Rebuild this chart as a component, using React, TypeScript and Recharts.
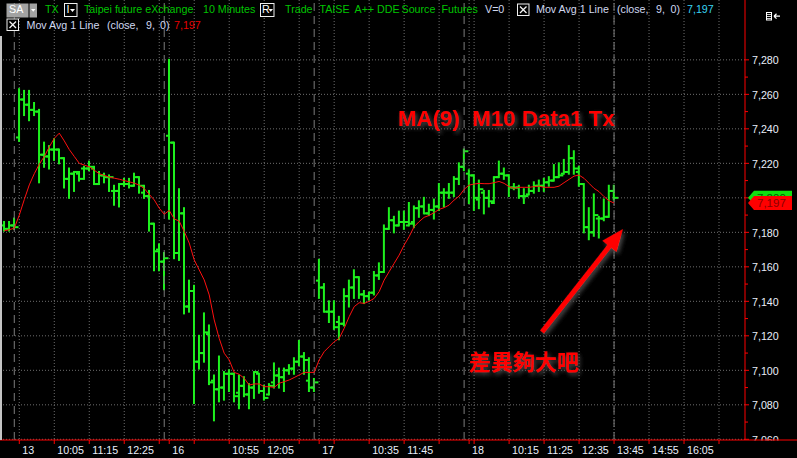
import React from 'react';
import { ComposedChart, Bar, Line, XAxis, YAxis, CartesianGrid, ReferenceLine } from 'recharts';

// ---------- data (10-minute bars, index 0 = day "13" 08:55) ----------
const FIRST_BAR_INDEX = -3;

const opens = [
  7184, 7182, 7184,
  7235, 7257, 7254, 7251, 7250, 7225, 7224, 7228, 7228, 7223,
  7211, 7214, 7214, 7217, 7217, 7217, 7208, 7213, 7212, 7204,
  7204, 7208, 7208, 7207, 7212, 7203, 7201, 7185, 7170, 7163,
  7236, 7232, 7168, 7191, 7137, 7146, 7105, 7110, 7121, 7094,
  7089, 7090, 7098, 7098, 7087, 7091, 7086, 7090, 7098, 7088,
  7086, 7093, 7097, 7096, 7100, 7101, 7105, 7108, 7094, 7090,
  7152, 7148, 7134, 7134, 7128, 7127, 7143, 7148, 7154, 7144,
  7143, 7145, 7155, 7157, 7182, 7187, 7184, 7186, 7184, 7186,
  7194, 7195, 7191, 7193, 7195, 7203, 7203, 7203, 7211, 7218,
  7214, 7213, 7199, 7203, 7200, 7197, 7212, 7214, 7213, 7206,
  7206, 7201, 7202, 7204, 7207, 7207, 7209, 7210, 7212, 7214,
  7215, 7223, 7215, 7208, 7183, 7180, 7188, 7188, 7189, 7204,
];
const highs = [
  7186, 7186, 7188,
  7263, 7262, 7262, 7255, 7251, 7232, 7230, 7234, 7228, 7223,
  7217, 7215, 7215, 7218, 7221, 7218, 7215, 7214, 7213, 7207,
  7208, 7211, 7211, 7214, 7212, 7207, 7204, 7185, 7173, 7168,
  7280, 7232, 7205, 7194, 7152, 7149, 7120, 7133, 7126, 7097,
  7108, 7099, 7100, 7098, 7097, 7096, 7092, 7099, 7098, 7091,
  7092, 7104, 7101, 7101, 7103, 7107, 7117, 7110, 7107, 7095,
  7164, 7150, 7140, 7140, 7131, 7147, 7152, 7158, 7154, 7146,
  7145, 7157, 7162, 7184, 7194, 7189, 7192, 7192, 7197, 7195,
  7198, 7200, 7196, 7199, 7208, 7205, 7208, 7212, 7220, 7228,
  7216, 7213, 7210, 7204, 7204, 7212, 7221, 7217, 7213, 7208,
  7207, 7205, 7207, 7209, 7210, 7211, 7212, 7219, 7220, 7222,
  7230, 7227, 7218, 7208, 7194, 7202, 7189, 7199, 7207, 7207,
];
const lows = [
  7181, 7181, 7182,
  7233, 7248, 7245, 7248, 7209, 7218, 7217, 7222, 7220, 7206,
  7200, 7204, 7210, 7211, 7216, 7208, 7208, 7209, 7204, 7196,
  7195, 7207, 7206, 7207, 7203, 7200, 7181, 7158, 7158, 7147,
  7188, 7165, 7164, 7133, 7134, 7081, 7101, 7105, 7092, 7071,
  7082, 7083, 7088, 7082, 7078, 7085, 7078, 7084, 7087, 7083,
  7086, 7090, 7090, 7088, 7098, 7098, 7103, 7098, 7088, 7088,
  7142, 7134, 7128, 7124, 7118, 7126, 7137, 7142, 7142, 7139,
  7141, 7144, 7153, 7157, 7182, 7180, 7184, 7182, 7184, 7183,
  7189, 7191, 7190, 7188, 7193, 7195, 7200, 7201, 7208, 7216,
  7197, 7193, 7194, 7191, 7195, 7197, 7212, 7211, 7201, 7205,
  7200, 7197, 7202, 7203, 7204, 7204, 7207, 7210, 7212, 7214,
  7214, 7214, 7207, 7180, 7176, 7178, 7177, 7187, 7189, 7199,
];
const closes = [
  7182, 7184, 7183,
  7257, 7254, 7251, 7250, 7225, 7224, 7228, 7228, 7223, 7211,
  7214, 7215, 7211, 7217, 7218, 7208, 7213, 7212, 7212, 7204,
  7208, 7208, 7207, 7212, 7207, 7201, 7185, 7169, 7163, 7165,
  7232, 7168, 7191, 7137, 7146, 7105, 7110, 7122, 7093, 7089,
  7090, 7098, 7098, 7085, 7091, 7086, 7090, 7099, 7088, 7084,
  7091, 7097, 7096, 7100, 7101, 7105, 7108, 7106, 7090, 7093,
  7148, 7134, 7134, 7125, 7127, 7143, 7148, 7154, 7144, 7143,
  7145, 7155, 7157, 7182, 7187, 7184, 7186, 7186, 7185, 7194,
  7195, 7191, 7193, 7195, 7203, 7203, 7203, 7211, 7218, 7227,
  7213, 7200, 7205, 7200, 7198, 7212, 7214, 7213, 7206, 7206,
  7201, 7201, 7204, 7207, 7207, 7209, 7210, 7212, 7213, 7215,
  7223, 7217, 7208, 7183, 7180, 7190, 7188, 7189, 7204, 7200,
];
const movAvg9 = [
  7181, 7181.5, 7182.4,
  7190, 7199, 7207.5, 7214, 7219.5, 7224, 7229.5, 7234.5, 7237.5, 7233,
  7228, 7224, 7220, 7219, 7218, 7216, 7214, 7213, 7212, 7211.4,
  7210.8, 7210, 7209.3, 7208.5, 7207.4, 7205.4, 7202, 7198.8, 7194, 7190.5,
  7192.7, 7187.8, 7186.5, 7180.5, 7173.8, 7164, 7158.2, 7152.4, 7143.7, 7129.2,
  7118.5, 7109.9, 7106, 7098.8, 7097.7, 7095.4, 7091.5, 7092.1, 7092.1, 7090.5,
  7090.5, 7090.1, 7092.5, 7093.4, 7094.4, 7095.8, 7097.3, 7098.8, 7098.8, 7098.8,
  7106, 7110.8, 7113.7, 7116.6, 7118.5, 7124.3, 7131.1, 7136.9, 7139.2, 7138.8,
  7140, 7141.7, 7145.6, 7152.3, 7157.2, 7162, 7166.8, 7172.6, 7177.5, 7183.3,
  7186.2, 7188.7, 7189.8, 7191.4, 7193.3, 7194.3, 7195.8, 7198.7, 7201, 7204.9,
  7207.4, 7208, 7208.4, 7208.2, 7208.2, 7208.8, 7209.5, 7208.4, 7206.5, 7205.5,
  7206.1, 7206.1, 7206.1, 7206.5, 7206.8, 7206.1, 7206.1, 7206.1, 7206.8, 7208.8,
  7210.7, 7212.6, 7213.2, 7211.3, 7208.4, 7205.5, 7203.6, 7200.7, 7198.3, 7197,
];

const sessionEndIndex = [-1, 29, 59, 89, 119];
const xTickIndex = [0, 7, 14, 21, 28, 30, 35, 42, 49, 56, 60, 63, 70, 77, 84, 90, 91, 98, 105, 112, 119, 126, 133, 140];
const xTickLabels = ['13', '10:05', '11:15', '12:25', '', '16', '', '10:55', '12:05', '', '17', '', '10:35', '11:45', '', '18', '', '10:15', '11:25', '12:35', '13:45', '14:55', '16:05', ''];
const yTickValues = [7060, 7070, 7080, 7090, 7100, 7110, 7120, 7130, 7140, 7150, 7160, 7170, 7180, 7190, 7200, 7210, 7220, 7230, 7240, 7250, 7260, 7270, 7280];
const yLabelValues = [7060, 7080, 7100, 7120, 7140, 7160, 7180, 7200, 7220, 7240, 7260, 7280];

const X_DOMAIN: [number, number] = [-3.86, 145.2];
const Y_DOMAIN: [number, number] = [7059.6, 7314.7];

const data = opens.map((open, k) => ({
  i: FIRST_BAR_INDEX + k,
  open,
  high: highs[k],
  low: lows[k],
  close: closes[k],
  ma: movAvg9[k],
}));
const lastBar = data[data.length - 1];
const lastClose = lastBar.close;
const lastMa = Math.round(lastBar.ma);
// price tags ride on the y axis: last close tag, then MA tag drawn last (on top)
const yAxisTicks = [...yTickValues.filter((v) => v !== lastClose && v !== lastMa), lastClose, lastMa];

// ---------- styles ----------
const FONT = '"Liberation Sans", Arial, sans-serif';
const BAR_GREEN = '#1ef01e';
const HEAD_GREEN = '#00c400';
const LIGHT = '#d0d8f0';
const AXIS_TEXT = '#e8eefa';
const RED = '#ff0000';
const FS = 10.7;

function OhlcShape(props: any) {
  const { x, y, width, height, payload } = props;
  if (x == null || y == null || !payload) return null;
  const cx = x + width / 2;
  const top = Math.min(y, y + height);
  const h = Math.abs(height);
  const range = payload.high - payload.low;
  const py = (p: number) => (range === 0 ? top : top + ((payload.high - p) / range) * h);
  const yo = py(payload.open);
  const yc = py(payload.close);
  return (
    <g stroke={BAR_GREEN} strokeWidth={2}>
      <line x1={cx} x2={cx} y1={top - 1} y2={top + h + 1} />
      <line x1={cx - 3} x2={cx} y1={yo} y2={yo} />
      <line x1={cx} x2={cx + 4.5} y1={yc} y2={yc} />
    </g>
  );
}

function XTick(props: any) {
  const { x, y, payload } = props;
  const label = xTickLabels[xTickIndex.indexOf(payload.value)];
  if (!label) return null;
  return (
    <text x={x + 3} y={y + 9.5} fill={AXIS_TEXT} fontSize={FS} fontFamily={FONT}>
      {label}
    </text>
  );
}

function PriceTag({ x, y, fill, color, text }: any) {
  const d = `M${x + 3} ${y} L${x + 9} ${y - 7} L${x + 47} ${y - 7} L${x + 47} ${y + 7} L${x + 9} ${y + 7} Z`;
  return (
    <g>
      <path d={d} fill={fill} />
      <text x={x + 12} y={y + 4.3} fill={color} fontSize={FS + 0.8} fontFamily={FONT}>
        {text}
      </text>
    </g>
  );
}

function YTick(props: any) {
  const { x, y, payload } = props;
  const v = payload.value as number;
  const isGridTick = yTickValues.includes(v);
  const isLabel = yLabelValues.includes(v);
  return (
    <g>
      {isGridTick && <line x1={x} x2={x + (isLabel ? 4 : 3)} y1={y} y2={y} stroke={RED} />}
      {v === lastClose && (
        <PriceTag x={x} y={y} fill="#10e010" color="#006000" text={lastClose.toLocaleString('en-US')} />
      )}
      {v === lastMa && v !== lastClose && (
        <PriceTag x={x} y={y} fill="#ff0000" color="#8a0000" text={lastMa.toLocaleString('en-US')} />
      )}
      {isLabel && v !== lastClose && (
        <text x={x + 7} y={y + 4.4} fill={AXIS_TEXT} fontSize={FS} fontFamily={FONT}>
          {v.toLocaleString('en-US')}
        </text>
      )}
    </g>
  );
}

function CheckBox({ x, y }: { x: number; y: number }) {
  return (
    <g>
      <rect x={x + 0.5} y={y + 0.5} width={11.5} height={11.5} fill="#000" stroke="#f0f0f0" strokeWidth={1} />
      <path d={`M${x + 3} ${y + 3} L${x + 9.5} ${y + 9.5} M${x + 9.5} ${y + 3} L${x + 3} ${y + 9.5}`} stroke="#f4f4f4" strokeWidth={1.3} />
    </g>
  );
}

function HT({ x, y, color, children }: any) {
  return (
    <text x={x} y={y} fill={color} fontSize={FS} fontFamily={FONT}>
      {children}
    </text>
  );
}

export default function App() {
  const r1 = 12.7;
  const r2 = 28.7;
  return (
    <div style={{ position: 'absolute', left: 0, top: 0, width: 797, height: 458, background: '#000', overflow: 'hidden' }}>
      <ComposedChart width={797} height={458} data={data} margin={{ top: 0, right: 0, bottom: 0, left: 0 }}>
        <CartesianGrid
          stroke="#6e6e6e"
          strokeDasharray="1 2"
          horizontalValues={yLabelValues}
          verticalValues={xTickIndex}
        />
        <XAxis
          type="number"
          dataKey="i"
          domain={X_DOMAIN}
          allowDataOverflow
          ticks={xTickIndex}
          interval={0}
          height={18}
          axisLine={{ stroke: RED }}
          tickLine={{ stroke: RED }}
          tickSize={4}
          tickMargin={0}
          tick={(p: any) => <XTick {...p} />}
        />
        <YAxis
          orientation="right"
          type="number"
          domain={Y_DOMAIN}
          allowDataOverflow
          ticks={yAxisTicks}
          interval={0}
          width={52}
          axisLine={{ stroke: RED }}
          tickLine={false}
          tickSize={0}
          tickMargin={0}
          tick={(p: any) => <YTick {...p} />}
        />
        {sessionEndIndex.map((s) => (
          <ReferenceLine key={s} x={s} stroke="#7c7c7c" strokeDasharray="8 5" />
        ))}
        <Bar
          dataKey={(d: any) => [d.low, d.high]}
          barSize={5}
          shape={(p: any) => <OhlcShape {...p} />}
          isAnimationActive={false}
        />
        <Line
          type="linear"
          dataKey="ma"
          stroke="#ff1010"
          strokeWidth={1}
          dot={false}
          activeDot={false}
          isAnimationActive={false}
        />
      </ComposedChart>

      <svg width={797} height={458} style={{ position: 'absolute', left: 0, top: 0, pointerEvents: 'none' }}>
        <defs>
          <filter id="shadow" x="-20%" y="-20%" width="140%" height="140%">
            <feDropShadow dx="2" dy="2.5" stdDeviation="2.2" floodColor="#4a4a4a" floodOpacity="1" />
          </filter>
        </defs>

        {/* left border + axis extension */}
        <rect x={0} y={36} width={2} height={404} fill="#c4c4c4" />
        <rect x={746} y={440.5} width={51} height={18} fill="#000" />
        <line x1={745} x2={797} y1={440} y2={440} stroke={RED} />

        {/* header row 1 */}
        <rect x={6.5} y={3.5} width={22} height={14} fill="#a2a2a2" />
        <HT x={9} y={r1} color="#ffffff">SA</HT>
        <rect x={29.5} y={3.5} width={7.5} height={14} fill="#a2a2a2" />
        <path d="M31 9 L35.5 9 L33.25 11.8 Z" fill="#fff" />
        <HT x={45} y={r1} color={HEAD_GREEN}>TX</HT>
        <rect x={64.5} y={3.5} width={12.5} height={13} fill="#000" stroke="#f0f0f0" />
        <HT x={66.5} y={r1} color="#ffffff">I</HT>
        <path d="M70 9 L75 9 L72.5 12 Z" fill="#fff" />
        <HT x={84} y={r1} color={HEAD_GREEN}>Taipei future eXchange</HT>
        <HT x={203} y={r1} color={HEAD_GREEN}>10 Minutes</HT>
        <rect x={260.5} y={3.5} width={13.5} height={13} fill="#000" stroke="#f0f0f0" />
        <HT x={262} y={r1} color="#ffffff">R</HT>
        <path d="M268.5 9 L273 9 L270.75 11.8 Z" fill="#fff" />
        <HT x={285} y={r1} color={HEAD_GREEN}>Trade</HT>
        <HT x={319.5} y={r1} color={HEAD_GREEN}>TAISE</HT>
        <HT x={354.5} y={r1} color={HEAD_GREEN}>A++ DDE</HT>
        <HT x={401.5} y={r1} color={HEAD_GREEN}>Source</HT>
        <HT x={441.5} y={r1} color={HEAD_GREEN}>Futures</HT>
        <HT x={485} y={r1} color={LIGHT}>V=0</HT>
        <CheckBox x={517} y={3.5} />
        <HT x={536} y={r1} color={LIGHT}>Mov Avg 1 Line</HT>
        <HT x={617} y={r1} color={LIGHT}>(close,</HT>
        <HT x={656} y={r1} color={LIGHT}>9,</HT>
        <HT x={670.5} y={r1} color={LIGHT}>0)</HT>
        <HT x={687} y={r1} color="#38d4f4">7,197</HT>

        {/* top right icon */}
        <rect x={766.5} y={12.5} width={5} height={7.5} fill="none" stroke="#fff" />
        <path d="M767 14.5 H771 M767 16.5 H771 M767 18.5 H771" stroke="#fff" strokeWidth={0.8} />
        <path d="M774 16.2 H780 M774 16.2 L776.5 13.8 M774 16.2 L776.5 18.6" stroke="#fff" strokeWidth={1.2} />

        {/* header row 2 */}
        <CheckBox x={6.5} y={18.5} />
        <HT x={26.5} y={r2} color={LIGHT}>Mov Avg 1 Line</HT>
        <HT x={107} y={r2} color={LIGHT}>(close,</HT>
        <HT x={146} y={r2} color={LIGHT}>9,</HT>
        <HT x={160} y={r2} color={LIGHT}>0)</HT>
        <HT x={174} y={r2} color="#e80000">7,197</HT>

        {/* annotations */}
        <text x={398} y={125.5} fill={RED} fontSize={22.3} fontWeight="bold" fontFamily={FONT} filter="url(#shadow)" style={{ whiteSpace: 'pre' }}>
          {'MA(9)  M10 Data1 Tx'}
        </text>
        <text x={469} y={370} fill={RED} fontSize={22} fontWeight="bold" fontFamily='"Noto Sans CJK TC", "Noto Sans CJK SC", sans-serif' filter="url(#shadow)">
          差異夠大吧
        </text>
        <g filter="url(#shadow)">
          <line x1={542} y1={332} x2={610} y2={245.5} stroke={RED} strokeWidth={5} />
          <path d="M623 229 L602.3 240.7 L616.5 251.9 Z" fill={RED} />
        </g>
      </svg>
    </div>
  );
}
